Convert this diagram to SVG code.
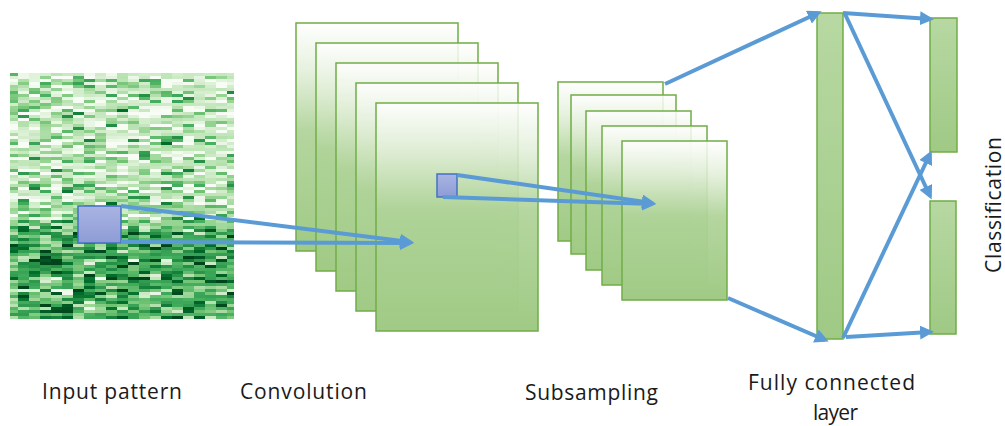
<svg xmlns="http://www.w3.org/2000/svg" width="1005" height="426" viewBox="0 0 1005 426">
<style>
.lbl{font-family:"Open Sans","Liberation Sans",sans-serif;font-size:21px;fill:#1a1a1a}
.sheet{fill:url(#fade);stroke:#70AD47;stroke-width:1.5}
.bar{fill:url(#barg);stroke:#70AD47;stroke-width:1.5}
.sq{fill:url(#sqg);stroke:#4472C4;stroke-width:1.5}
.cn{stroke:#5B9BD5;stroke-width:4;fill:none;marker-end:url(#ah)}
</style>
<defs>
<linearGradient id="fade" x1="0" y1="0" x2="0" y2="1">
<stop offset="0" stop-color="#FFFFFF" stop-opacity="0.85"/>
<stop offset="0.2" stop-color="#E3EFDA" stop-opacity="0.85"/>
<stop offset="0.47" stop-color="#AFD398" stop-opacity="0.93"/>
<stop offset="1" stop-color="#A0CA85" stop-opacity="1"/>
</linearGradient>
<linearGradient id="barg" x1="0" y1="0" x2="0" y2="1">
<stop offset="0" stop-color="#B7D8A2"/>
<stop offset="1" stop-color="#9FC985"/>
</linearGradient>
<linearGradient id="sqg" x1="0" y1="0" x2="0" y2="1">
<stop offset="0" stop-color="#A9B4E2"/>
<stop offset="1" stop-color="#8E9CD6"/>
</linearGradient>
<linearGradient id="bias" x1="0" y1="0" x2="0" y2="1">
<stop offset="0" stop-color="#000"/>
<stop offset="0.5" stop-color="#0d0d0d"/>
<stop offset="0.62" stop-color="#262626"/>
<stop offset="0.7" stop-color="#6a6a6a"/>
<stop offset="0.8" stop-color="#555"/>
<stop offset="1" stop-color="#505050"/>
</linearGradient>
<filter id="heat" filterUnits="userSpaceOnUse" x="10" y="73" width="224" height="246" color-interpolation-filters="sRGB">
<feTurbulence type="fractalNoise" baseFrequency="0.09 0.6" numOctaves="2" seed="11" result="n"/>
<feColorMatrix in="n" type="matrix" values="1 0 0 0 0 1 0 0 0 0 1 0 0 0 0 0 0 0 0 1" result="g"/>
<feComposite in="g" in2="SourceGraphic" operator="arithmetic" k2="1" k3="0.55" k4="0" result="c"/>
<feFlood x="12" y="74" width="1" height="1" flood-color="#fff" flood-opacity="1" result="dot"/>
<feComposite in="dot" in2="dot" operator="over" x="10" y="73" width="11" height="3" result="cell"/>
<feTile in="cell" x="10" y="73" width="224" height="246" result="grid"/>
<feComposite in="c" in2="grid" operator="in" x="10" y="73" width="224" height="246" result="s"/>
<feMorphology in="s" operator="dilate" radius="5 1" x="10" y="73" width="224" height="246" result="px"/>
<feComponentTransfer in="px" result="st">
<feFuncR type="linear" slope="2.1" intercept="-0.82"/>
<feFuncG type="linear" slope="2.1" intercept="-0.82"/>
<feFuncB type="linear" slope="2.1" intercept="-0.82"/>
<feFuncA type="linear" slope="0" intercept="1"/>
</feComponentTransfer>
<feComponentTransfer in="st">
<feFuncR type="table" tableValues="0.97 0.90 0.78 0.63 0.45 0.25 0.14 0 0"/>
<feFuncG type="table" tableValues="0.99 0.96 0.91 0.85 0.77 0.67 0.55 0.43 0.27"/>
<feFuncB type="table" tableValues="0.96 0.88 0.75 0.61 0.46 0.36 0.27 0.17 0.11"/>
</feComponentTransfer>
</filter>
<marker id="ah" markerUnits="userSpaceOnUse" markerWidth="14" markerHeight="14" viewBox="0 0 14 14" refX="10" refY="7" orient="auto">
<path d="M0,0 L14,7 L0,14 z" fill="#5B9BD5"/>
</marker>
</defs>

<g id="input-pattern">
<rect x="10" y="73" width="224" height="246" fill="url(#bias)" filter="url(#heat)"/>
<rect x="78" y="206" width="43" height="37" class="sq"/>
</g>

<g id="convolution">
<rect x="296" y="23" width="162" height="228" class="sheet"/>
<rect x="316" y="43" width="162" height="228" class="sheet"/>
<rect x="336" y="63" width="162" height="228" class="sheet"/>
<rect x="356" y="83" width="162" height="228" class="sheet"/>
<rect x="376" y="103" width="162" height="228" class="sheet"/>
<rect x="437" y="174" width="20" height="23" class="sq"/>
</g>

<g id="subsampling">
<rect x="558" y="82" width="105" height="159" class="sheet"/>
<rect x="571" y="95" width="105" height="159" class="sheet"/>
<rect x="586" y="111" width="105" height="159" class="sheet"/>
<rect x="602" y="126" width="105" height="159" class="sheet"/>
<rect x="622" y="141" width="105" height="159" class="sheet"/>
</g>

<g id="fully-connected">
<rect x="817" y="13" width="26" height="326" class="bar"/>
</g>

<g id="class-a">
<rect x="930" y="18" width="27" height="134" class="bar"/>
</g>
<g id="class-b">
<rect x="930" y="201" width="26" height="133" class="bar"/>
</g>

<g id="connectors">
<line x1="121" y1="206" x2="410" y2="242" class="cn"/>
<line x1="121" y1="242" x2="410" y2="243" class="cn"/>
<line x1="457" y1="175" x2="652" y2="203" class="cn"/>
<line x1="443" y1="197" x2="652" y2="204" class="cn"/>
<line x1="665" y1="84" x2="818" y2="13" class="cn"/>
<line x1="728" y1="298" x2="825" y2="340" class="cn"/>
<line x1="843" y1="13" x2="930" y2="19" class="cn"/>
<line x1="845" y1="14" x2="930" y2="196" class="cn"/>
<line x1="843" y1="338" x2="930" y2="154" class="cn"/>
<line x1="846" y1="337" x2="930" y2="332" class="cn"/>
</g>

<g id="labels">
<text class="lbl" x="42" y="399" textLength="140">Input pattern</text>
<text class="lbl" x="240" y="399" textLength="127">Convolution</text>
<text class="lbl" x="525" y="400" textLength="133">Subsampling</text>
<text class="lbl" x="748" y="390" textLength="167">Fully connected</text>
<text class="lbl" x="813" y="420" textLength="45">layer</text>
<text class="lbl" transform="translate(1001,205) rotate(-90)" x="-68" y="0" textLength="136">Classification</text>
</g>
</svg>
